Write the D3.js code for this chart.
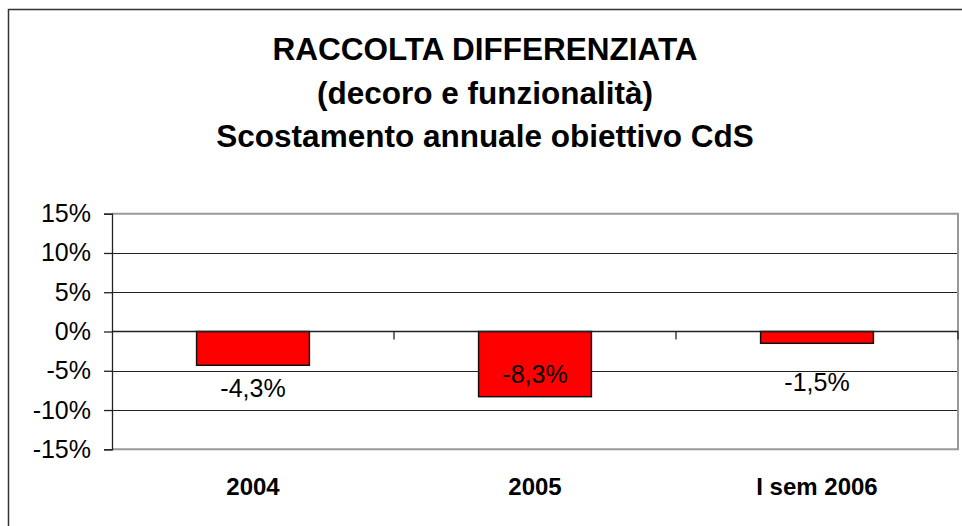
<!DOCTYPE html>
<html><head><meta charset="utf-8">
<script src="https://cdn.jsdelivr.net/npm/d3@7"></script>
<style>html,body{margin:0;padding:0;background:#fff;}svg{display:block;}</style>
</head><body>
<svg id="chart" width="962" height="526"></svg>
<script>
const titleLines = ["RACCOLTA DIFFERENZIATA", "(decoro e funzionalità)", "Scostamento annuale obiettivo CdS"];
const categories = ["2004", "2005", "I sem 2006"];
const values = [-4.3, -8.3, -1.5];
const valueLabels = ["-4,3%", "-8,3%", "-1,5%"];
const labelAnchors = [-8.35, -6.5, -7.55];
const yTicks = [-15, -10, -5, 0, 5, 10, 15];

const svg = d3.select("#chart");
const W = 962, H = 526;
const m = {left: 112, right: 958, top: 213.7, bottom: 449.3};
const FONT = "Liberation Sans, Arial, sans-serif";

svg.append("rect").attr("x", 0).attr("y", 0).attr("width", W).attr("height", H).attr("fill", "#fff");
// outer chart border
svg.append("rect").attr("x", 8.5).attr("y", 9.5).attr("width", 1000).attr("height", 1000)
  .attr("fill", "none").attr("stroke", "#333").attr("stroke-width", 1.5);

// title
svg.append("g").selectAll("text").data(titleLines).join("text")
  .attr("x", 485).attr("y", (d, i) => 60 + i * 43.5)
  .attr("text-anchor", "middle")
  .attr("font-family", FONT)
  .attr("font-weight", "bold").attr("font-size", 31.5).attr("fill", "#000")
  .text(d => d);

const x = d3.scaleBand().domain(categories).range([m.left, m.right]).paddingInner(0.6).paddingOuter(0.3);
const xOuter = d3.scaleBand().domain(categories).range([m.left, m.right]);
const y = d3.scaleLinear().domain([-15, 15]).range([m.bottom, m.top]);

// gridlines
svg.append("g").selectAll("line").data(yTicks.filter(t => t !== 0 && Math.abs(t) !== 15)).join("line")
  .attr("x1", m.left).attr("x2", m.right)
  .attr("y1", d => Math.round(y(d)) + 0.5).attr("y2", d => Math.round(y(d)) + 0.5)
  .attr("stroke", "#222").attr("stroke-width", 1);

// plot border (gray)
svg.append("path")
  .attr("d", `M${m.left},${m.top}H${m.right}V${m.bottom}H${m.left}`)
  .attr("fill", "none").attr("stroke", "#999").attr("stroke-width", 2);

// y axis
const yAxis = d3.axisLeft(y).tickValues(yTicks).tickSize(8).tickPadding(13).tickFormat(d => d + "%");
const gy = svg.append("g").attr("transform", `translate(${m.left},0)`).call(yAxis);
gy.select(".domain").attr("stroke", "#222").attr("stroke-width", 1.3);
gy.selectAll(".tick line").attr("stroke", "#222").attr("stroke-width", 1.3);
gy.selectAll(".tick text").attr("font-family", FONT)
  .attr("font-size", 25).attr("fill", "#000");

// bars
svg.append("g").selectAll("rect").data(values).join("rect")
  .attr("x", (d, i) => x(categories[i]))
  .attr("y", d => y(Math.max(0, d)))
  .attr("width", x.bandwidth())
  .attr("height", d => Math.abs(y(d) - y(0)))
  .attr("fill", "#ff0000").attr("stroke", "#111").attr("stroke-width", 1.5);

// x axis at 0
svg.append("line").attr("x1", m.left).attr("x2", m.right)
  .attr("y1", y(0)).attr("y2", y(0)).attr("stroke", "#222").attr("stroke-width", 1.3);
svg.append("g").selectAll("line").data(categories).join("line")
  .attr("x1", d => xOuter(d) + xOuter.bandwidth()).attr("x2", d => xOuter(d) + xOuter.bandwidth())
  .attr("y1", y(0)).attr("y2", y(0) + 8).attr("stroke", "#222").attr("stroke-width", 1.3);

// value labels
svg.append("g").selectAll("text").data(valueLabels).join("text")
  .attr("x", (d, i) => xOuter(categories[i]) + xOuter.bandwidth() / 2)
  .attr("y", (d, i) => y(labelAnchors[i]))
  .attr("text-anchor", "middle")
  .attr("font-family", FONT)
  .attr("font-size", 25).attr("fill", "#000")
  .text(d => d);

// category labels
svg.append("g").selectAll("text").data(categories).join("text")
  .attr("x", d => xOuter(d) + xOuter.bandwidth() / 2)
  .attr("y", 495)
  .attr("text-anchor", "middle")
  .attr("font-family", FONT)
  .attr("font-weight", "bold").attr("font-size", 24).attr("fill", "#000")
  .text(d => d);
</script>
</body></html>
